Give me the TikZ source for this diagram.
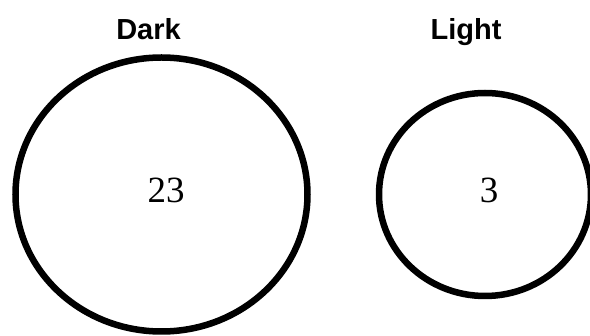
\documentclass[tikz,border=0pt]{standalone}
\usepackage{fontspec}
\setmainfont{Liberation Serif}
\newfontfamily\labelfont{Liberation Sans}
\usetikzlibrary{shapes.geometric}
\begin{document}
\begin{tikzpicture}[x=1pt,y=-1pt,
  ring/.style={draw=black,line width=6.5pt,ellipse,inner sep=0pt},
  title/.style={font=\labelfont\bfseries\fontsize{29}{29}\selectfont,anchor=base,inner sep=0pt},
  count/.style={font=\fontsize{37}{37}\selectfont,inner sep=0pt}]
\useasboundingbox (0,0) rectangle (590,336);
\node[ring,minimum width=292pt,minimum height=274pt] (dark) at (161.5,194.5) {};
\node[ring,minimum width=212pt,minimum height=203pt] (light) at (485,194.5) {};
\node[title] (darklbl) at (148.5,40) {Dark};
\node[title] (lightlbl) at (466,40) {Light};
\node[count] (darkn) at (166,190) {23};
\node[count] (lightn) at (489,190) {3};
\end{tikzpicture}
\end{document}
